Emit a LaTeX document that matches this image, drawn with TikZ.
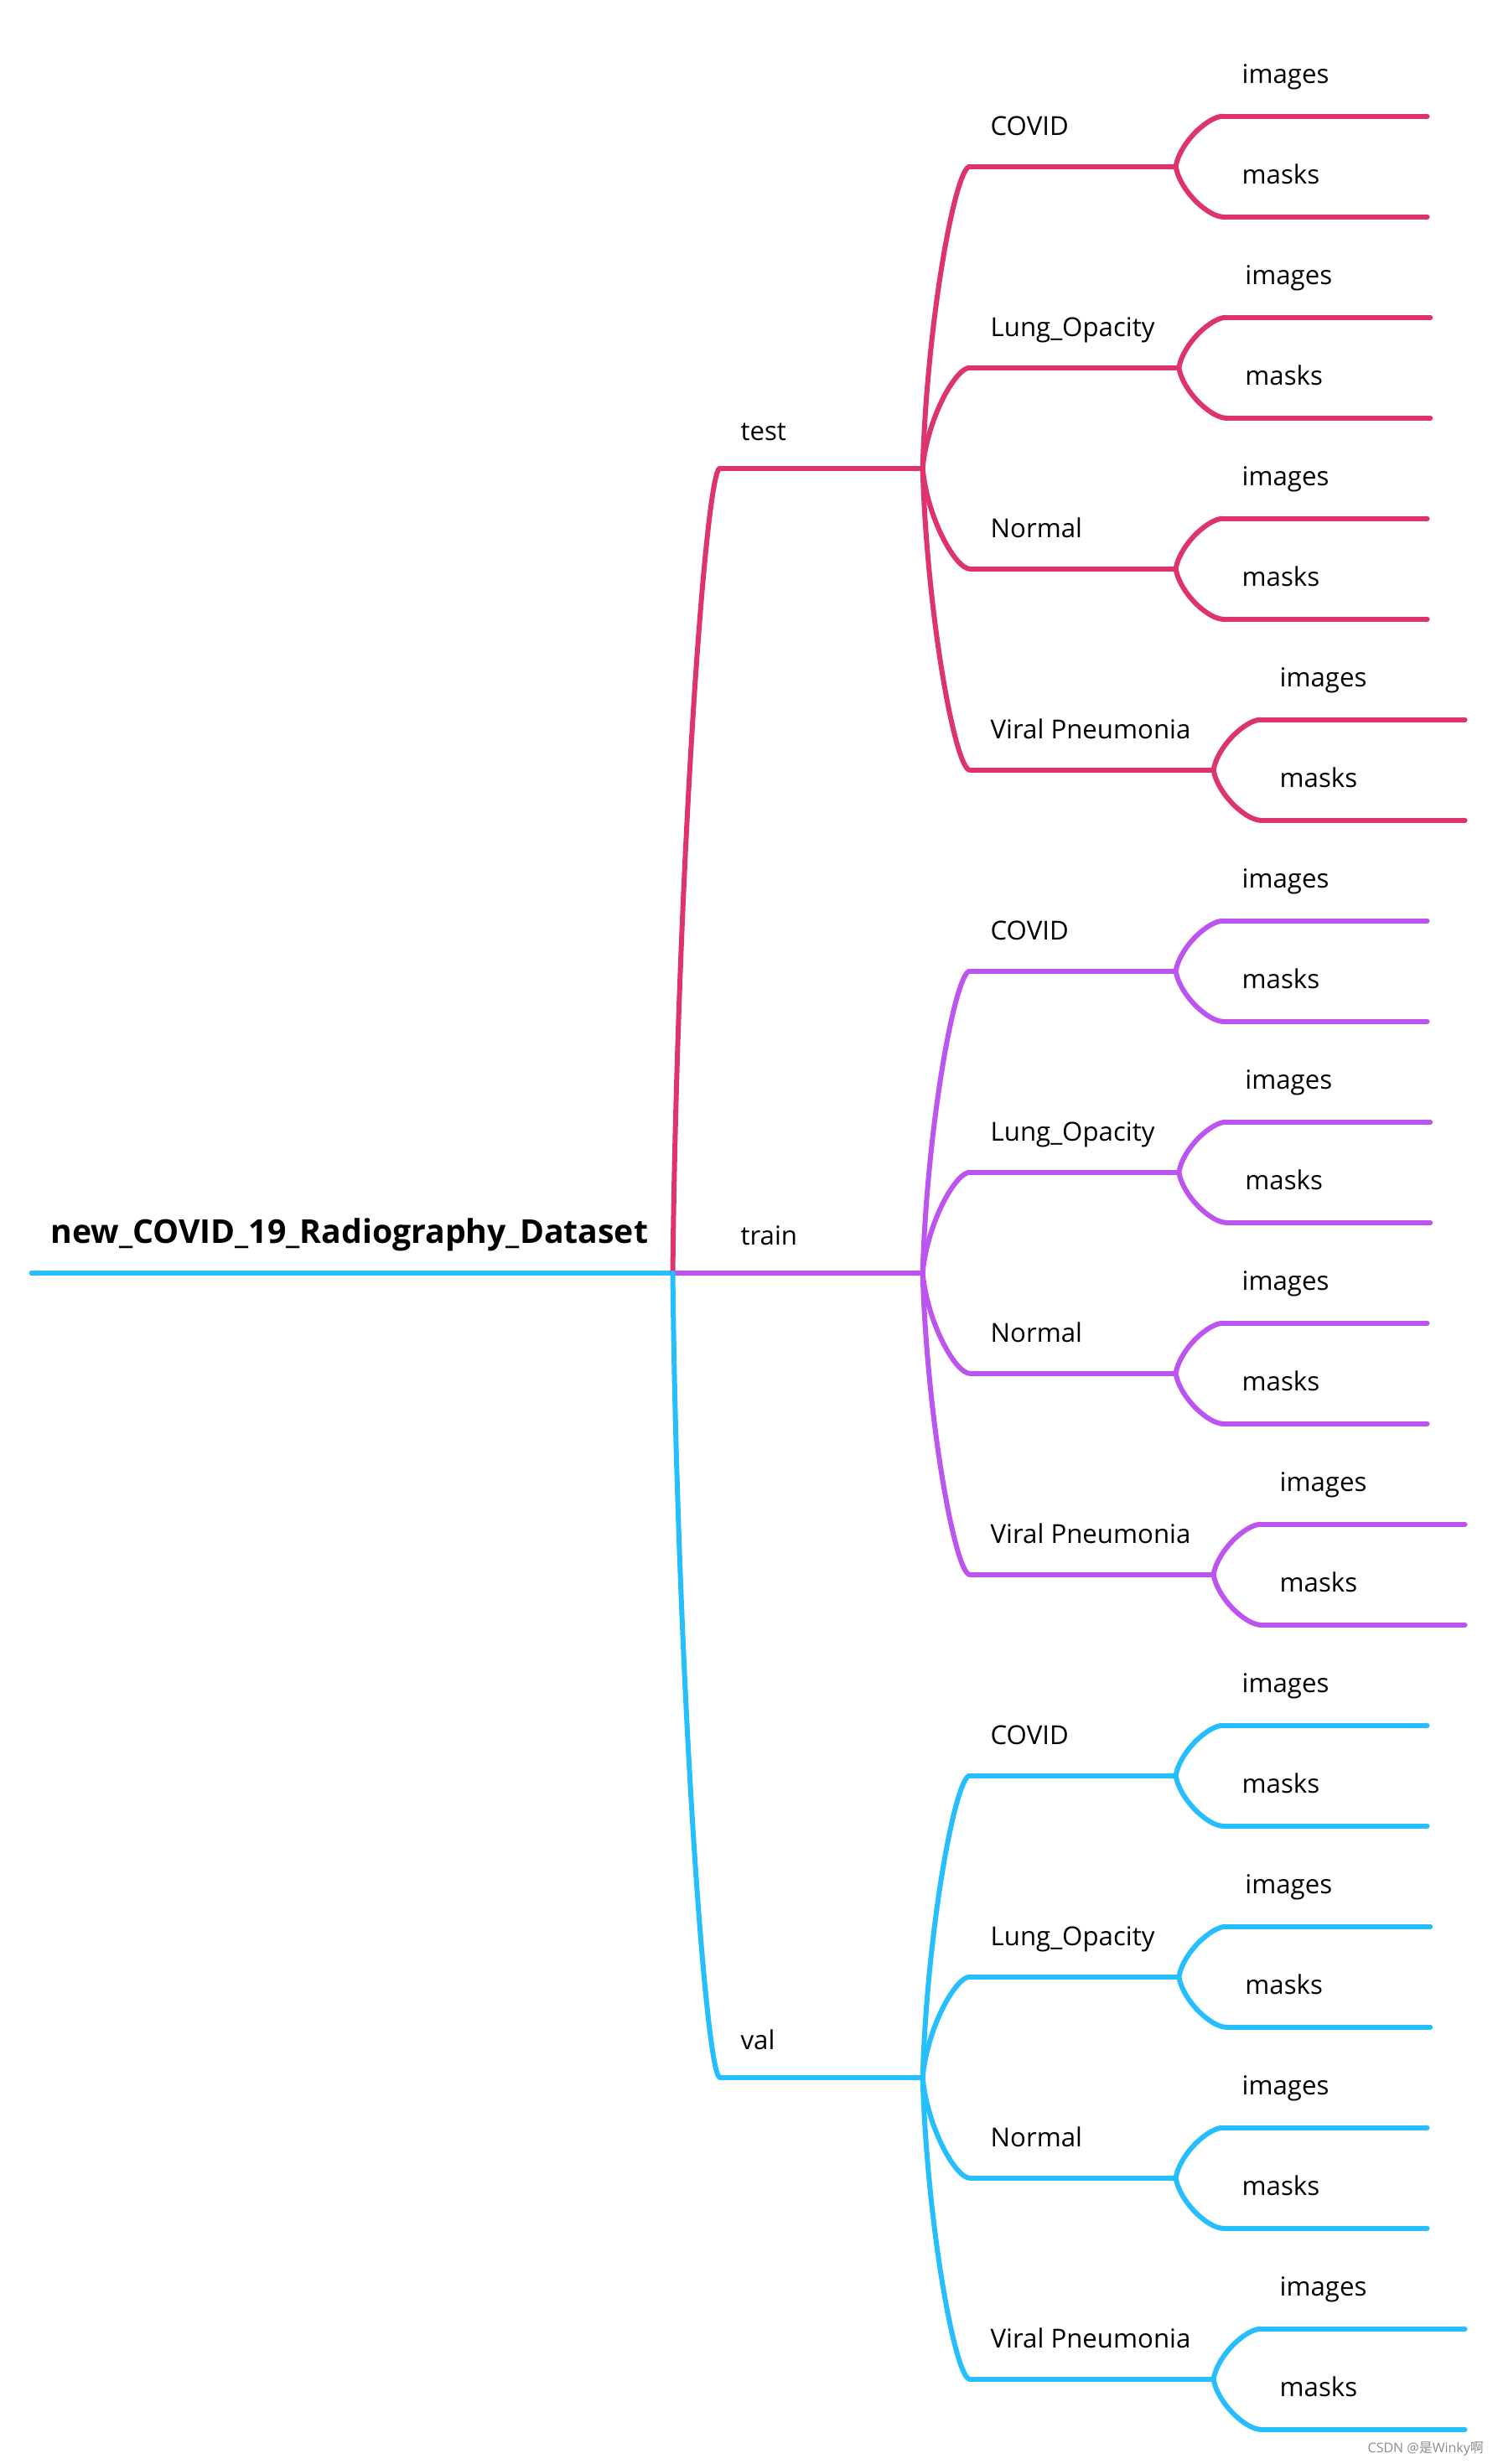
\documentclass[tikz,border=0pt]{standalone}
\usepackage{fontspec}
\setmainfont{Open Sans}
\newfontfamily\cjkfont{Noto Sans CJK SC}
\usetikzlibrary{calc}
\definecolor{pinkc}{RGB}{221,51,110}
\definecolor{purplec}{RGB}{188,85,240}
\definecolor{bluec}{RGB}{38,190,255}
\tikzset{
  conn/.style={line width=3pt, line cap=round, line join=round},
  lbl/.style={anchor=base west, inner sep=0pt, font=\fontsize{15.6}{18}\selectfont},
  rootlbl/.style={anchor=base west, inner sep=0pt, font=\fontsize{19.6}{22}\selectfont\bfseries},
}
\newcommand\curvelink[3]{%
  \draw[conn,#3] let \p1=(#1), \p2=(#2) in
    (#1) .. controls ({\x1+0.1*(\x2-\x1)},{\y1+0.5*(\y2-\y1)}) and ({\x1+0.7*(\x2-\x1)},{\y2}) .. (#2);}
\begin{document}
\begin{tikzpicture}[x=0.9375pt,y=-0.9375pt]
\useasboundingbox (0,0) rectangle (953,1568);
% root
\coordinate (R0) at (20,810);
\coordinate (J0) at (428,810);
\node[rootlbl] (root) at (32,791) {new\_COVID\_19\_Radiography\_Dataset};
\draw[conn,bluec] (R0) -- (J0);
% main branches
\foreach \bn/\bt/\bc/\bi in {t/test/pinkc/-1, r/train/purplec/0, v/val/bluec/1}{
  \pgfmathsetmacro{\by}{810+512*\bi}
  \coordinate (B\bn) at (458,\by);
  \coordinate (E\bn) at (587,\by);
  \node[lbl] (L\bn) at (471,\by-18) {\bt};
  \curvelink{J0}{B\bn}{\bc}
  \draw[conn,\bc] (B\bn) -- (E\bn);
  \foreach \k/\ct/\cl in {0/COVID/131, 1/Lung\_Opacity/133, 2/Normal/131, 3/Viral Pneumonia/155}{
    \pgfmathsetmacro{\cy}{\by-192+128*\k}
    \pgfmathsetmacro{\jx}{617+\cl}
    \coordinate (S\bn\k) at (617,\cy);
    \coordinate (J\bn\k) at (\jx,\cy);
    \node[lbl] (C\bn\k) at (630,\cy-20) {\ct};
    \curvelink{E\bn}{S\bn\k}{\bc}
    \draw[conn,\bc] (S\bn\k) -- (J\bn\k);
    % leaves
    \coordinate (IS\bn\k) at (\jx+30,\cy-32);
    \coordinate (IE\bn\k) at (\jx+160,\cy-32);
    \coordinate (MS\bn\k) at (\jx+30,\cy+32);
    \coordinate (ME\bn\k) at (\jx+160,\cy+32);
    \node[lbl] (I\bn\k) at (\jx+42,\cy-53) {images};
    \node[lbl] (M\bn\k) at (\jx+42,\cy+11) {masks};
    \curvelink{J\bn\k}{IS\bn\k}{\bc}
    \curvelink{J\bn\k}{MS\bn\k}{\bc}
    \draw[conn,\bc] (IS\bn\k) -- (IE\bn\k);
    \draw[conn,\bc] (MS\bn\k) -- (ME\bn\k);
  }
}
\node[anchor=base west, inner sep=0pt, text=black!45, font=\fontsize{8}{9}\selectfont] (wm) at (870,1561) {CSDN @\cjkfont 是\rmfamily Winky\cjkfont 啊};
\end{tikzpicture}
\end{document}
